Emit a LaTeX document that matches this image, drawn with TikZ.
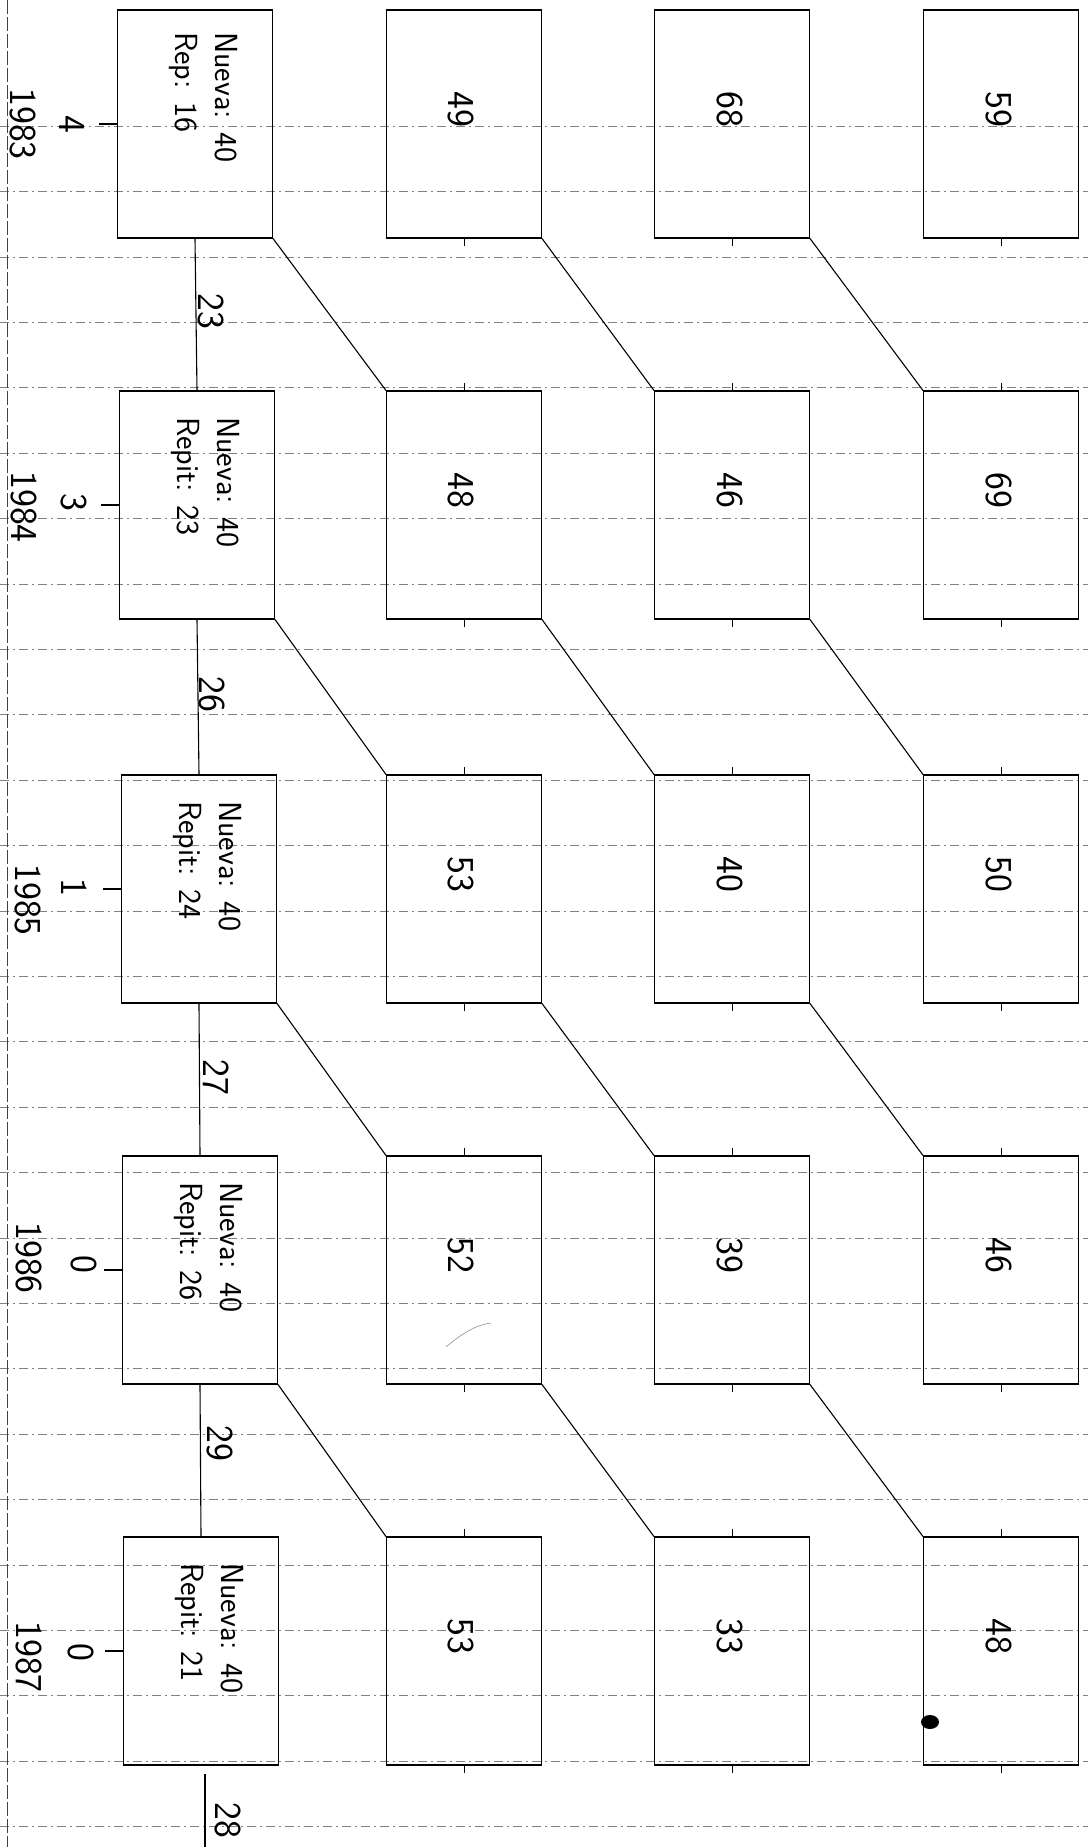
\documentclass[tikz,border=0pt]{standalone}
\usepackage{fontspec}
\usetikzlibrary{calc}
\begin{document}
\begin{tikzpicture}[x=1pt,y=-1pt,
  grid/.style={black!50,line width=0.6pt,dash pattern=on 9pt off 4pt on 2pt off 4pt},
  margin/.style={black!75,line width=0.9pt,dash pattern=on 14pt off 3pt},
  cell/.style={draw,line width=1.1pt,minimum width=155pt,minimum height=228pt,inner sep=0pt},
  heavy/.style={line width=1.7pt},
  conn/.style={line width=1.1pt},
  tickmark/.style={line width=0.9pt},
  hw/.style={font=\sffamily\fontsize{38}{40}\selectfont,rotate=-90,inner sep=0pt},
  hwsmall/.style={font=\sffamily\fontsize{32}{40}\selectfont,rotate=-90,inner sep=0pt,align=left,anchor=west},
]
\useasboundingbox (0,0) rectangle (1088,1847);
\fill[white] (0,0) rectangle (1088,1847);

% ruled paper
\foreach \k in {0,...,26} \draw[grid] (0,{126+65.4*\k}) -- (1088,{126+65.4*\k});
\draw[margin] (7,0) -- (7,1847);

% first column (Nueva boxes)
\node[cell] (n1) at (195,124) {};
\node[cell] (n2) at (197,505) {};
\node[cell] (n3) at (199,889) {};
\node[cell] (n4) at (200,1270) {};
\node[cell] (n5) at (201,1651) {};

\node[hwsmall] (tn1) at (203,32) {Nueva: 40\\Rep: 16};
\node[hwsmall] (tn2) at (205,417) {Nueva: 40\\Repit: 23};
\node[hwsmall] (tn3) at (207,801) {Nueva: 40\\Repit: 24};
\node[hwsmall] (tn4) at (208,1182) {Nueva: 40\\Repit: 26};
\node[hwsmall] (tn5) at (209,1563) {Nueva: 40\\Repit: 21};

% other columns
\foreach \r/\cy/\a/\b/\c in {1/124/49/68/59, 2/505/48/46/69, 3/889/53/40/50, 4/1270/52/39/46, 5/1651/53/33/48}{
  \node[cell] (b\r2) at (464,\cy) {};
  \node[cell] (b\r3) at (732,\cy) {};
  \node[cell] (b\r4) at (1001,\cy) {};
  \node[hw] (v\r2) at (461,{\cy-15}) {\a};
  \node[hw] (v\r3) at (730,{\cy-15}) {\b};
  \node[hw] (v\r4) at (999,{\cy-15}) {\c};
  \foreach \cc in {2,3,4}{
    \draw[tickmark] (b\r\cc.south) -- ++(0,7);
  }
}
\foreach \r in {2,3,4,5}{
  \foreach \cc in {2,3,4}{
    \draw[tickmark] (b\r\cc.north) -- ++(0,-7);
  }
}

% heavy top and bottom edges
\foreach \nm in {n1,n2,n3,n4,n5,b12,b13,b14,b22,b23,b24,b32,b33,b34,b42,b43,b44,b52,b53,b54}{
  \draw[heavy] (\nm.south west) -- (\nm.south east);
  \draw[heavy] (\nm.north west) -- (\nm.north east);
}

% diagonal connectors
\foreach \r/\s in {1/2,2/3,3/4,4/5}{
  \draw[conn] (n\r.south east) -- (b\s2.north west);
  \draw[conn] (b\r2.south east) -- (b\s3.north west);
  \draw[conn] (b\r3.south east) -- (b\s4.north west);
  \draw[conn] (n\r.south) -- (n\s.north);
}

% labels on vertical connectors
\node[hw] (l12) at (211,311) {23};
\node[hw] (l23) at (212,694) {26};
\node[hw] (l34) at (216,1077) {27};
\node[hw] (l45) at (220,1443) {29};

% final stub
\coordinate (e5a) at (205,1774);
\coordinate (e5b) at (205,1847);
\draw[conn] (e5a) -- (e5b);
\node[hw] (l5) at (228,1820) {28};

% left stubs and numbers
\foreach \r in {1,...,5}{
  \coordinate (s\r) at ($(n\r.west)+(-18,0)$);
  \draw[conn] (n\r.west) -- (s\r);
}
\node[hw] (m1) at (72,124) {4};
\node[hw] (m2) at (74,502) {3};
\node[hw] (m3) at (74,887) {1};
\node[hw] (m4) at (84,1264) {0};
\node[hw] (m5) at (81,1652) {0};

% years
\node[hw] (y1) at (23,124) {1983};
\node[hw] (y2) at (24,507) {1984};
\node[hw] (y3) at (28,900) {1985};
\node[hw] (y4) at (29,1258) {1986};
\node[hw] (y5) at (29,1657) {1987};

% stray marks
\fill (930,1722) ellipse (9 and 7);
\draw[black!50,line width=0.5pt] (446,1347) .. controls (460,1335) and (475,1325) .. (491,1323);
\end{tikzpicture}
\end{document}
